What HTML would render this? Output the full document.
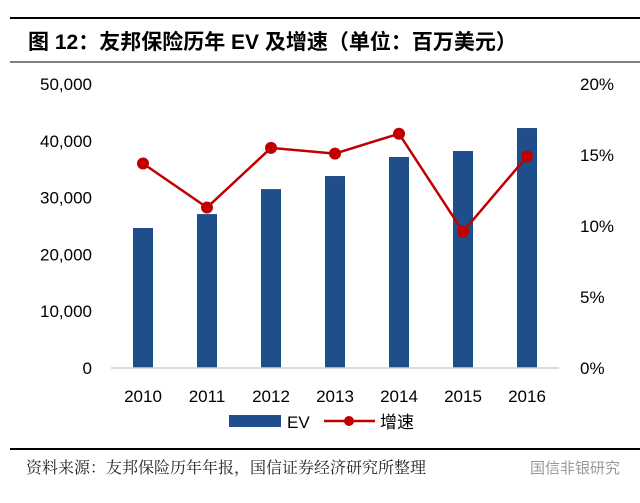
<!DOCTYPE html>
<html><head><meta charset="utf-8"><style>
body{margin:0;background:#fff;width:640px;height:498px;overflow:hidden;font-family:"Liberation Sans","Noto Sans CJK SC",sans-serif}
</style></head><body>
<svg width="640" height="498" xmlns="http://www.w3.org/2000/svg">
<line x1="10" y1="18" x2="640" y2="18" stroke="#000" stroke-width="2"/>
<text x="28" y="49" font-size="21" font-weight="bold" font-family="Liberation Sans,Noto Sans CJK SC,sans-serif">图 12：友邦保险历年 EV 及增速（单位：百万美元）</text>
<line x1="10" y1="62" x2="640" y2="62" stroke="#000" stroke-width="1"/>
<g id="plot"></g>
<line x1="10" y1="449" x2="640" y2="449" stroke="#000" stroke-width="2"/>
<text x="26" y="473" font-size="16" fill="#222" font-family="Liberation Serif,Noto Serif CJK SC,serif">资料来源：友邦保险历年年报，国信证券经济研究所整理</text>
<text x="530" y="473" font-size="15" fill="#999" font-family="Liberation Sans,Noto Sans CJK SC,sans-serif">国信非银研究</text>
</svg>
<script>
const categories=["2010","2011","2012","2013","2014","2015","2016"];
const evValues=[24650,27100,31500,33800,37150,38200,42250];
const growthValues=[14.4,11.3,15.5,15.1,16.5,9.6,14.9];
const leftTicks=[0,10000,20000,30000,40000,50000];
const rightTicks=[0,5,10,15,20];
const NS="http://www.w3.org/2000/svg";
const g=document.getElementById('plot');
const y0=368,yTop=84,x0=111,step=64;
const yL=v=>y0-(v/50000)*(y0-yTop);
const yR=v=>y0-(v/20)*(y0-yTop);
const xC=i=>x0+step*(i+0.5);
function mk(t,a){const e=document.createElementNS(NS,t);for(const k in a)e.setAttribute(k,a[k]);g.appendChild(e);return e;}
leftTicks.forEach(v=>{const t=mk('text',{x:92,y:yL(v)+6,'text-anchor':'end','font-size':17});t.textContent=v.toLocaleString('en-US');

});
rightTicks.forEach(v=>{const t=mk('text',{x:580,y:yR(v)+6,'font-size':17});t.textContent=v+'%';

});
evValues.forEach((v,i)=>{const r=mk('rect',{x:xC(i)-10,y:yL(v),width:20,height:y0-yL(v),fill:'#1f4e8c'});

});
const ax=mk('line',{x1:x0,y1:y0,x2:x0+step*7,y2:y0,stroke:'#d0d0d0','stroke-width':1.5});


categories.forEach((c,i)=>{const t=mk('text',{x:xC(i),y:402,'text-anchor':'middle','font-size':17});t.textContent=c;

});
const pl=mk('polyline',{points:growthValues.map((v,i)=>xC(i)+','+yR(v)).join(' '),fill:'none',stroke:'#c00000','stroke-width':2.5});


growthValues.forEach((v,i)=>{const c=mk('circle',{cx:xC(i),cy:yR(v),r:6,fill:'#c00000'});

});
const lr=mk('rect',{x:229,y:415,width:52,height:12,fill:'#1f4e8c'});


const lt=mk('text',{x:287,y:428,'font-size':17});lt.textContent='EV';


const ll=mk('line',{x1:324,y1:421,x2:375,y2:421,stroke:'#c00000','stroke-width':2.5});


const lc=mk('circle',{cx:349,cy:421,r:5,fill:'#c00000'});


const lt2=mk('text',{x:380,y:428,'font-size':17});lt2.textContent='增速';


</script>
</body></html>
